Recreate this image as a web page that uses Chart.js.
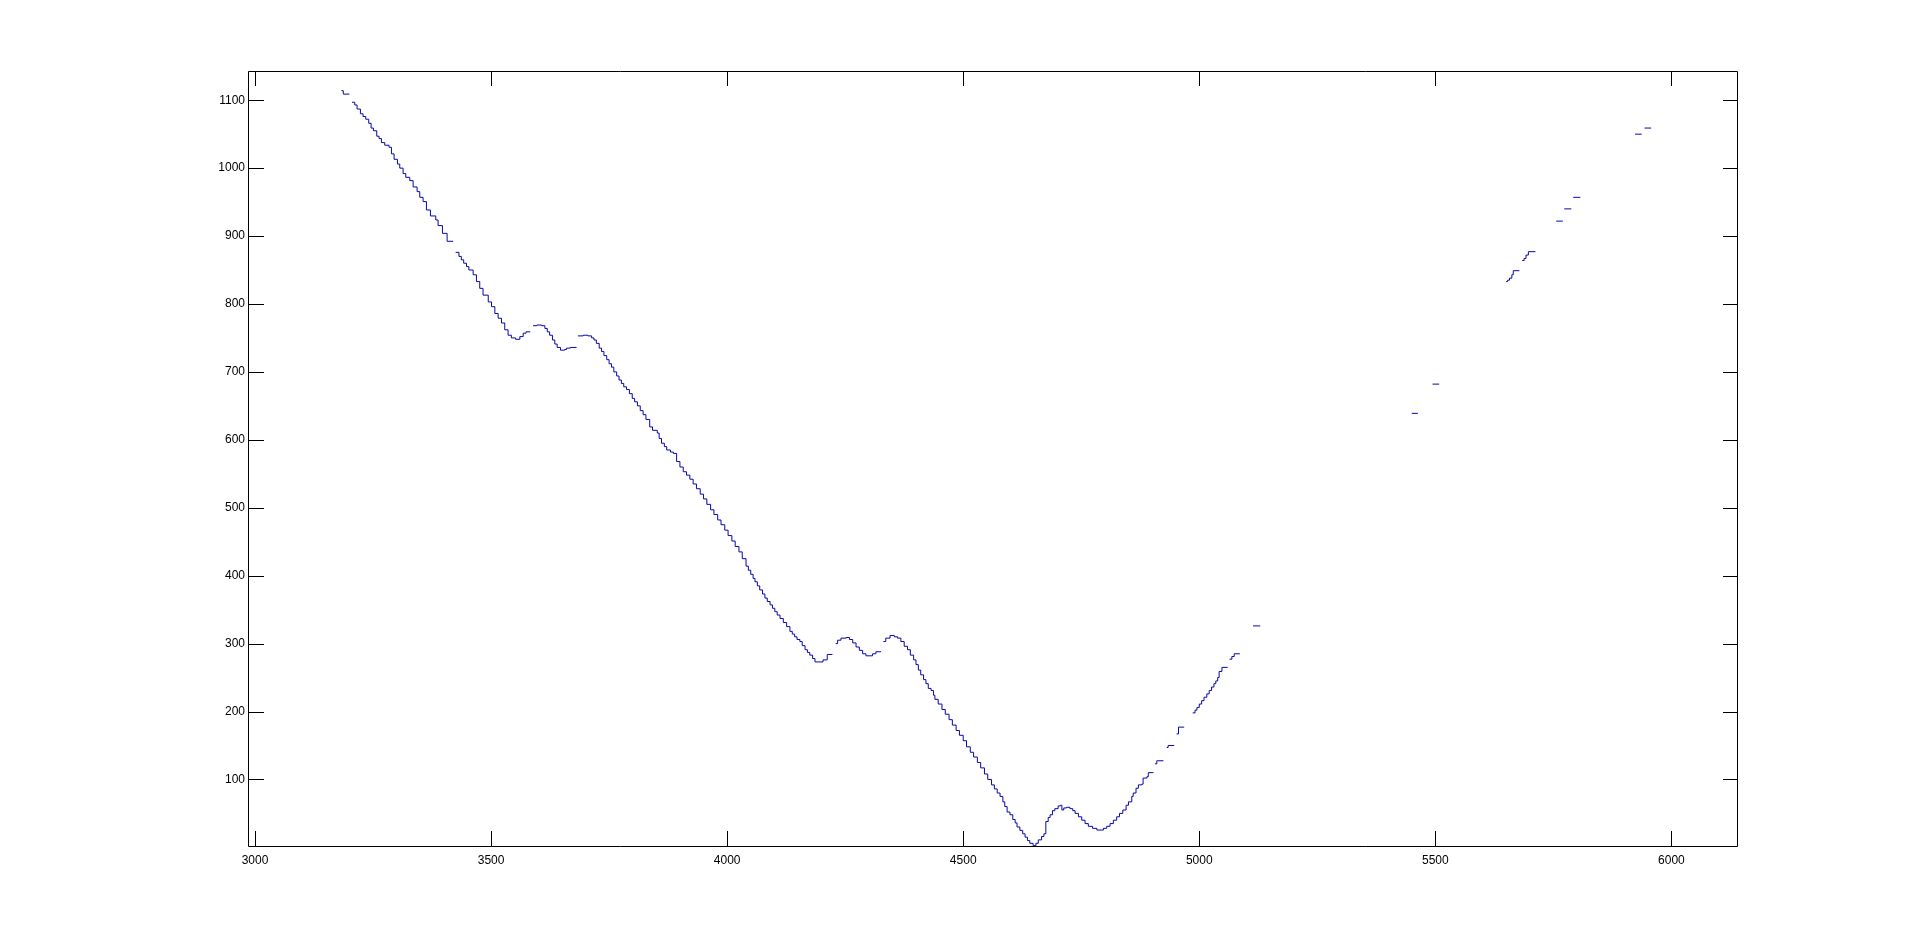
<!DOCTYPE html>
<html>
<head>
<meta charset="utf-8">
<script src="https://cdn.jsdelivr.net/npm/chart.js@4/dist/chart.umd.min.js"></script>
<style>
html,body{margin:0;padding:0;background:#fff;}
canvas{display:block;}
</style>
</head>
<body>
<canvas id="c" width="1920" height="950"></canvas>
<script>
// x positions of the stairs (null y = gap in the line)
const xValues = [
 3183,3187,3200,3202,
 3205.6,3211.3,3216.2,3223.3,3228.9,3234.6,3240.9,3245.9,3250.8,3257.9,3262.8,3267.8,3274.8,3284,3289,3294.6,3301.7,3306.6,3313.7,3319.3,3327.8,3334.9,3343.3,3349,3356,3363.1,3371.6,3382.9,3387.8,3397,3406.9,3419.6,3422,
 3425,3432,3437,3442,3448,3453,3462,3469,3476,3483,3494,3501,3508,3515,3522,3529,3536,3543,3552,3561,3568,3574,3583,3586,
 3589,3597,3607,3614,3619,3624,3630,3635,3640,3647,3656,3660,3668,3681,3682,
 3684,3695,3705,3713,3718,3723,3729,3734,3739,3745,3750,3755,3760,3766,3771,3776,3781,3787,3793,3799,3804,3810,3816,3822,3828,3836,3842,3852,3856,3861,3867,3872,3880,3886,3893,3900,3907,3914,3921,3928,3935,3943,3950,3957,3965,3972,3980,3987,3995,4002,4010,4017,4025,4032,4040,4045,4050,4055,4059,4064,4069,4075,4080,4085,4091,4096,4101,4106,4112,4119,4126,4133,4138,4143,4148,4154,4159,4165,4170,4175,4181,4186,4203,4212,4223,4226,
 4230,4234,4241,4252,4259,4266,4273,4280,4287,4294,4308,4315,4326,4328,
 4331,4336,4345,4354,4361,4368,4375,4382,4388,4395,4400,4405,4410,4416,4421,4426,4432,4437,4440,4447,4455,4462,4470,4477,4485,4492,4500,4507,4515,4522,4530,4537,4545,4552,4560,4566,4572,4578,4584,4588,4593,4599,4605,4610,4614,4620,4626,4631,4636,4641,4648,4654,4659,4666,4671,4675,4680,4684,4689,4694,4701,4706,4709,4713,4719,4726,4732,4737,4744,4751,4758,4765,4774,4783,4797,4804,4811,4818,4825,4831,4838,4845,4850,4857,4860,4866,4871,4878,4881,4889,4892,4903,4904,
 4906,4910,4924,4927,
 4931,4934,4947,4950,
 4952,4956,4968,4975,
 4986,4991,4995,5000,5005,5010,5016,5021,5026,5031,5035,5039,5042,5048,5060,5062,
 5064,5069,5074,5086,5100,
 5114,5129,5300,
 5450,5463,5480,
 5494,5508,5600,
 5650,5653,5657,5662,5665,5678,5681,
 5684,5688,5692,5697,5712,5730,
 5756,5770,5771,
 5773,5788,5790,
 5792,5807,5850,
 5923,5937,5940,
 5943,5957
];
const yValues = [
 1114,1109,1109,null,
 1097,1093,1087,1080,1076,1072,1066,1059,1055,1047,1043.5,1037.6,1033.7,1030.7,1021,1013,1006,1000,992,986.5,981.6,972.3,965.4,957,950.7,938.4,929.6,923.7,915.4,904,892.3,892.3,null,
 876,870,865,860,855,850,843,833,823,813,803,796,786,779,772,762,754,750,748,752,757,759,759,null,
 768,769,768,764,759,754,747,741,736,732,733,735,736,736,null,
 753,754,753,750,747,742,735,730,724,718,712,707,700,694,688,683,678,674,668,661,656,650,643,637,630,619,614,610,602,595,590,585,582,580,568,560,553,548,542,535,528,520,513,505,497,490,482,475,467,459,451,443,435,425,414,408,402,396,391,385,379,373,367,362,357,352,347,342,337,331,325,318,314,310,306,303,297,291,287,283,278,273,276,284,284,null,
 300,305,308,309,306,301,295,290,285,282,285,288,288,null,
 303,308,312,310,308,303,296,291,283,276,269,261,254,247,241,234,231,224,218,211,203,196,188,180,172,165,157,148,140,133,125,117,108,100,92,86,80,75,67,60,52,48,41,36,30,25,20,15,10,6,2.5,6,11,16,20,38,44,48,54,57,61,62,55,58,59,57,54,50,45,40,35,31,28,25.5,28,31,35,40,45,50,55,62,67,75,80,87,92,93,102,104,110,110,null,
 123,127.5,127.5,null,
 147,150,150,null,
 167,177,177,null,
 198,202,206,211,216,221,226,231,236,241,245,250,259,265,265,null,
 277,281,285,285,null,
 326,326,null,
 639,639,null,
 682,682,null,
 833,835,838,843,849,849,null,
 864,867,872,877,877,null,
 922,922,null,
 940,940,null,
 957,957,null,
 1050,1050,null,
 1059,1059
];
const xTicks = [3000,3500,4000,4500,5000,5500,6000];
const yTicks = [100,200,300,400,500,600,700,800,900,1000,1100];
const xRange = [2987.3, 6141];
const yRange = [2, 1143];

const points = xValues.map((x,i)=>({x:x, y:yValues[i]}));

const boxPlugin = {
  id:'matlabBox',
  afterDatasetsDraw(chart){
    const {ctx, chartArea:a, scales} = chart;
    ctx.save();
    ctx.strokeStyle = '#000';
    ctx.lineWidth = 1;
    ctx.beginPath();
    ctx.rect(Math.round(a.left)-0.5, Math.round(a.top)+0.5, Math.round(a.right-a.left), Math.round(a.bottom-a.top));
    const L = 15;
    xTicks.forEach(v=>{
      const px = Math.round(scales.x.getPixelForValue(v))+0.5;
      ctx.moveTo(px, a.bottom); ctx.lineTo(px, a.bottom-L);
      ctx.moveTo(px, a.top); ctx.lineTo(px, a.top+L);
    });
    yTicks.forEach(v=>{
      const py = Math.round(scales.y.getPixelForValue(v))+0.5;
      ctx.moveTo(a.left, py); ctx.lineTo(a.left+L, py);
      ctx.moveTo(a.right, py); ctx.lineTo(a.right-L, py);
    });
    ctx.stroke();
    ctx.restore();
  }
};

new Chart(document.getElementById('c'), {
  type:'line',
  data:{datasets:[{
    data: points,
    stepped: true,
    spanGaps: false,
    borderColor: 'rgb(8,8,165)',
    borderWidth: 1,
    pointRadius: 0,
    fill: false
  }]},
  options:{
    responsive:false,
    animation:false,
    devicePixelRatio:1,
    layout:{padding:{left:200, right:182, top:71, bottom:74}},
    plugins:{legend:{display:false}, tooltip:{enabled:false}},
    scales:{
      x:{
        type:'linear', min:xRange[0], max:xRange[1],
        grid:{display:false, drawTicks:false}, border:{display:false},
        afterBuildTicks: s => { s.ticks = xTicks.map(v=>({value:v})); },
        afterFit: s => { s.height = 30; },
        ticks:{color:'#000', padding:7, maxRotation:0, autoSkip:false,
          font:{family:'"Liberation Sans", Arial, sans-serif', size:12},
          callback: v => String(v)}
      },
      y:{
        type:'linear', min:yRange[0], max:yRange[1],
        grid:{display:false, drawTicks:false}, border:{display:false},
        afterBuildTicks: s => { s.ticks = yTicks.map(v=>({value:v})); },
        afterFit: s => { s.width = 49; },
        ticks:{color:'#000', padding:4, autoSkip:false,
          font:{family:'"Liberation Sans", Arial, sans-serif', size:12},
          callback: v => String(v)}
      }
    }
  },
  plugins:[boxPlugin]
});
</script>
</body>
</html>
